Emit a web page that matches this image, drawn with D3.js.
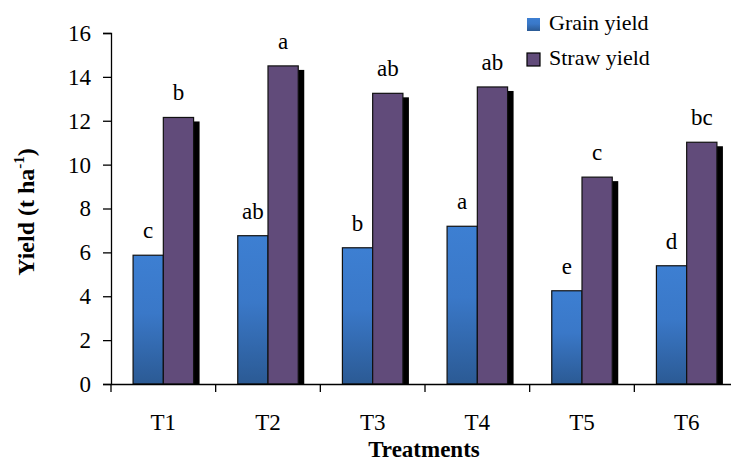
<!DOCTYPE html>
<html>
<head>
  <meta charset="utf-8">
  <script src="https://cdn.jsdelivr.net/npm/d3@7"></script>
  <style>
    body { margin: 0; background: #fff; }
    text { font-family: "Liberation Serif", "Times New Roman", serif; fill: #000; }
    .axis path, .axis line { stroke: #000; stroke-width: 1.3; fill: none; }
    .axis text { font-size: 23px; font-family: "Liberation Serif", "Times New Roman", serif; }
  </style>
</head>
<body>
  <div id="box"></div>
  <script>
    // data
    const treatments = ['T1', 'T2', 'T3', 'T4', 'T5', 'T6']
    const grainYield = [5.87, 6.76, 6.21, 7.19, 4.25, 5.39]
    const strawYield = [12.15, 14.5, 13.25, 13.54, 9.43, 11.02]
    const grainLetters = ['c', 'ab', 'b', 'a', 'e', 'd']
    const strawLetters = ['b', 'a', 'ab', 'ab', 'c', 'bc']
    const seriesNames = ['Grain yield', 'Straw yield']
    const yTicks = [0, 2, 4, 6, 8, 10, 12, 14, 16]

    const width = 731
    const height = 461
    const padding = { top: 33, right: -8, bottom: 77, left: 111 }

    const svg = d3.select('#box').append('svg')
      .attr('width', width)
      .attr('height', height)

    const defs = svg.append('defs')
    const grad = defs.append('linearGradient')
      .attr('id', 'grainGrad')
      .attr('x1', 0).attr('y1', 0).attr('x2', 0).attr('y2', 1)
    grad.append('stop').attr('offset', '0%').attr('stop-color', '#3d7fd2')
    grad.append('stop').attr('offset', '45%').attr('stop-color', '#3a78c8')
    grad.append('stop').attr('offset', '100%').attr('stop-color', '#2b5a94')

    const colors = ['url(#grainGrad)', '#614b7a']

    const xScale = d3.scaleBand()
      .domain(treatments)
      .range([padding.left, width - padding.right])

    const inner = d3.scaleBand()
      .domain([0, 1])
      .range([0, xScale.bandwidth()])
      .paddingOuter(0.73)

    const yScale = d3.scaleLinear()
      .domain([0, 16])
      .range([height - padding.bottom, padding.top])

    const rows = treatments.map((t, i) => ({
      t: t,
      vals: [grainYield[i], strawYield[i]],
      letters: [grainLetters[i], strawLetters[i]]
    }))

    const groups = svg.selectAll('.grp')
      .data(rows)
      .enter()
      .append('g')
      .attr('class', 'grp')
      .attr('transform', d => `translate(${xScale(d.t)},0)`)

    // shadows first
    groups.selectAll('.shadow')
      .data(d => d.vals)
      .enter()
      .append('rect')
      .attr('class', 'shadow')
      .attr('x', (d, i) => inner(i) + 6)
      .attr('y', d => yScale(d) + 4)
      .attr('width', inner.bandwidth())
      .attr('height', d => yScale(0) - yScale(d) - 4)
      .attr('fill', '#000')

    groups.selectAll('.bar')
      .data(d => d.vals)
      .enter()
      .append('rect')
      .attr('class', 'bar')
      .attr('x', (d, i) => inner(i))
      .attr('y', d => yScale(d))
      .attr('width', inner.bandwidth())
      .attr('height', d => yScale(0) - yScale(d))
      .attr('fill', (d, i) => colors[i])
      .attr('stroke', '#111')
      .attr('stroke-width', 1.2)

    groups.selectAll('.lbl')
      .data(d => d.vals.map((v, i) => ({ v: v, s: d.letters[i] })))
      .enter()
      .append('text')
      .attr('class', 'lbl')
      .attr('x', (d, i) => inner(i) + inner.bandwidth() / 2)
      .attr('y', d => yScale(d.v) - 17)
      .attr('text-anchor', 'middle')
      .style('font-size', '23px')
      .text(d => d.s)

    // y axis
    svg.append('g')
      .attr('class', 'axis')
      .attr('transform', `translate(${padding.left},0)`)
      .call(d3.axisLeft(yScale).tickValues(yTicks).tickSizeOuter(0).tickSize(8).tickPadding(12))

    // x axis
    const xAxis = svg.append('g')
      .attr('class', 'axis')
      .attr('transform', `translate(0,${yScale(0)})`)
      .call(d3.axisBottom(xScale).tickSize(0).tickSizeOuter(0).tickPadding(30))
    xAxis.selectAll('.sep')
      .data(treatments)
      .enter()
      .append('line')
      .attr('class', 'sep')
      .attr('x1', d => xScale(d))
      .attr('x2', d => xScale(d))
      .attr('y1', 0)
      .attr('y2', 8)

    // axis titles
    svg.append('text')
      .attr('x', 424)
      .attr('y', 457)
      .attr('text-anchor', 'middle')
      .style('font-size', '23px')
      .style('font-weight', 'bold')
      .text('Treatments')

    const yTitle = svg.append('text')
      .attr('transform', `translate(34,212) rotate(-90)`)
      .attr('text-anchor', 'middle')
      .style('font-size', '24px')
      .style('font-weight', 'bold')
    yTitle.append('tspan').text('Yield (t ha')
    yTitle.append('tspan').attr('dy', -10).style('font-size', '15px').text('-1')
    yTitle.append('tspan').attr('dy', 10).text(')')

    // legend
    const legend = svg.selectAll('.legend')
      .data(seriesNames)
      .enter()
      .append('g')
      .attr('class', 'legend')
      .attr('transform', (d, i) => `translate(527,${18 + i * 35})`)
    legend.append('rect')
      .attr('width', 13)
      .attr('height', 13)
      .attr('fill', (d, i) => colors[i])
      .attr('stroke', (d, i) => i === 1 ? '#000' : 'none')
      .attr('stroke-width', 1.2)
    legend.append('text')
      .attr('x', 22)
      .attr('y', 12)
      .style('font-size', '22px')
      .text(d => d)
  </script>
</body>
</html>
